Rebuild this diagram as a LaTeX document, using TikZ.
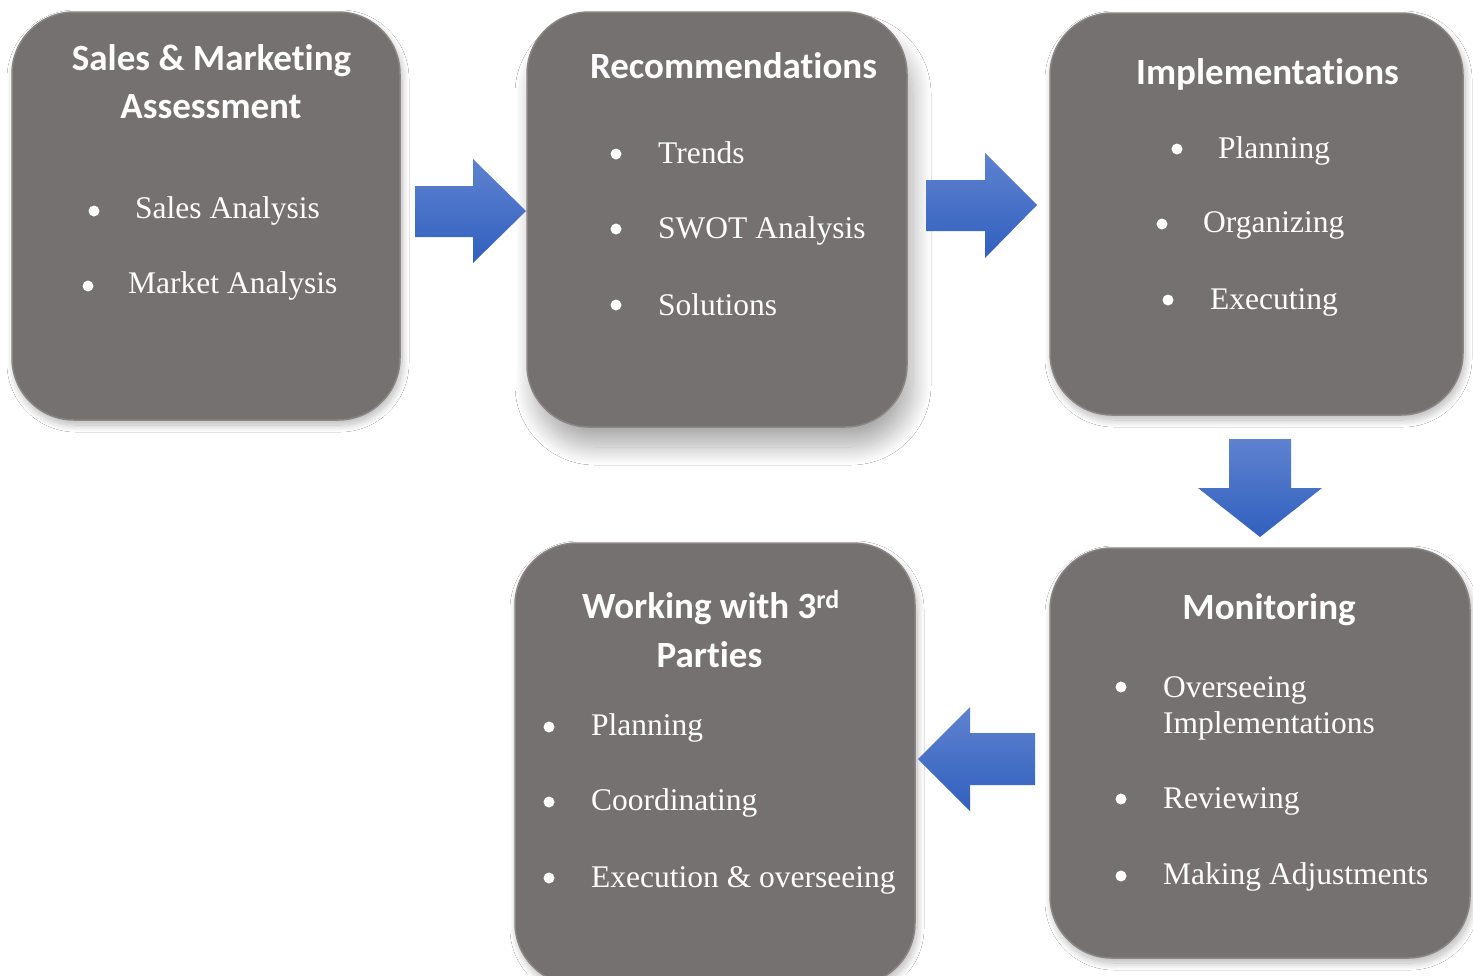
\documentclass[tikz,border=0pt]{standalone}
\usepackage{fontspec}
\setmainfont{Liberation Serif}
\newfontfamily\titlefont{Carlito}[RawFeature={-liga;-calt;-clig;-dlig}]
\newcommand\zbrk{\kern0pt{}}
\usetikzlibrary{shadows.blur}
\definecolor{boxgray}{RGB}{118,113,113}
\definecolor{boxedge}{RGB}{138,132,132}
\definecolor{arrtop}{RGB}{95,130,208}
\definecolor{arrbot}{RGB}{48,96,190}
\tikzset{
  card/.style={rounded corners=62pt, fill=boxgray, draw=boxedge, line width=1.5pt,
    inner sep=0pt, blur shadow={shadow xshift=2pt, shadow yshift=-5pt, shadow blur radius=7pt, shadow blur steps=20, shadow opacity=28}},
  bigcard/.style={rounded corners=62pt, fill=boxgray, draw=boxedge, line width=1.5pt,
    inner sep=0pt, blur shadow={shadow xshift=6pt, shadow yshift=-20pt, shadow blur radius=18pt, shadow blur steps=24, shadow opacity=32}},
  ttl/.style={text=white, font=\titlefont\bfseries\fontsize{37}{44}\selectfont, anchor=base, inner sep=0pt},
  itm/.style={text=white, font=\fontsize{31.5}{36}\selectfont, anchor=base west, inner sep=0pt},
  dot/.style={fill=white, draw=none},
  blockarrow/.style={top color=arrtop, bottom color=arrbot, draw=none}
}
\begin{document}
\begin{tikzpicture}[x=1pt,y=-1pt]
\clip (0,0) rectangle (1473,975);
\fill[white] (0,0) rectangle (1473,975);

% boxes
\node[card, minimum width=388pt, minimum height=408pt] (b1) at (206,216) {};
\node[bigcard, minimum width=380pt, minimum height=415pt] (b2) at (717,219.5) {};
\node[card, minimum width=413pt, minimum height=402pt] (b3) at (1256.5,214) {};
\node[card, minimum width=420pt, minimum height=410pt] (b4) at (1260,753) {};
\node[card, minimum width=400pt, minimum height=442pt] (b5) at (715,764) {};

% arrows
\path[blockarrow] (415,186) -- (473,186) -- (473,159) -- (526,211) -- (473,263) -- (473,237) -- (415,237) -- cycle;
\path[blockarrow] (926,180) -- (985,180) -- (985,153) -- (1037,205) -- (985,258) -- (985,231) -- (926,231) -- cycle;
\path[blockarrow] (1229,439) -- (1291,439) -- (1291,488) -- (1322,488) -- (1260,537) -- (1198,488) -- (1229,488) -- cycle;
\path[blockarrow] (1035,733) -- (970,733) -- (970,707) -- (918,759) -- (970,811) -- (970,785) -- (1035,785) -- cycle;

% box 1
\node[ttl] (t1a) at (211.5,70) {Sales \& Market\zbrk ing};
\node[ttl] (t1b) at (211,118) {Assessment};
\fill[dot] (94,211) circle (5.5);
\node[itm] (i1a) at (135,218) {Sales Analysis};
\fill[dot] (88,286) circle (5.5);
\node[itm] (i1b) at (128,293) {Market Analysis};

% box 2
\node[ttl] (t2) at (733.5,78) {Recommendat\zbrk ions};
\fill[dot] (616,154) circle (5.5);
\node[itm] (i2a) at (658,163) {Trends};
\fill[dot] (616,229) circle (5.5);
\node[itm] (i2b) at (658,238) {SWOT Analysis};
\fill[dot] (616,305) circle (5.5);
\node[itm] (i2c) at (658,315) {Solutions};

% box 3
\node[ttl] (t3) at (1267.5,84) {Implementat\zbrk ions};
\fill[dot] (1177,149) circle (5.5);
\node[itm] (i3a) at (1218,158) {Planning};
\fill[dot] (1162,224) circle (5.5);
\node[itm] (i3b) at (1203,232) {Organizing};
\fill[dot] (1168,300) circle (5.5);
\node[itm] (i3c) at (1210,309) {Executing};

% box 4
\node[ttl] (t4) at (1269,619) {Monitoring};
\fill[dot] (1121,687) circle (5.5);
\node[itm] (i4a) at (1163,697) {Overseeing};
\node[itm] (i4b) at (1163,733) {Implementations};
\fill[dot] (1121,799) circle (5.5);
\node[itm] (i4c) at (1163,808) {Reviewing};
\fill[dot] (1121,876) circle (5.5);
\node[itm] (i4d) at (1163,884) {Making Adjustments};

% box 5
\node[ttl, anchor=base west] (t5a) at (582,618) {Working with 3\textsuperscript{rd}};
\node[ttl] (t5b) at (709.5,667) {Part\zbrk ies};
\fill[dot] (549,727) circle (5.5);
\node[itm] (i5a) at (591,735) {Planning};
\fill[dot] (549,802) circle (5.5);
\node[itm] (i5b) at (591,810) {Coordinating};
\fill[dot] (549,878) circle (5.5);
\node[itm] (i5c) at (591,887) {Execution \& overseeing};
\end{tikzpicture}
\end{document}
